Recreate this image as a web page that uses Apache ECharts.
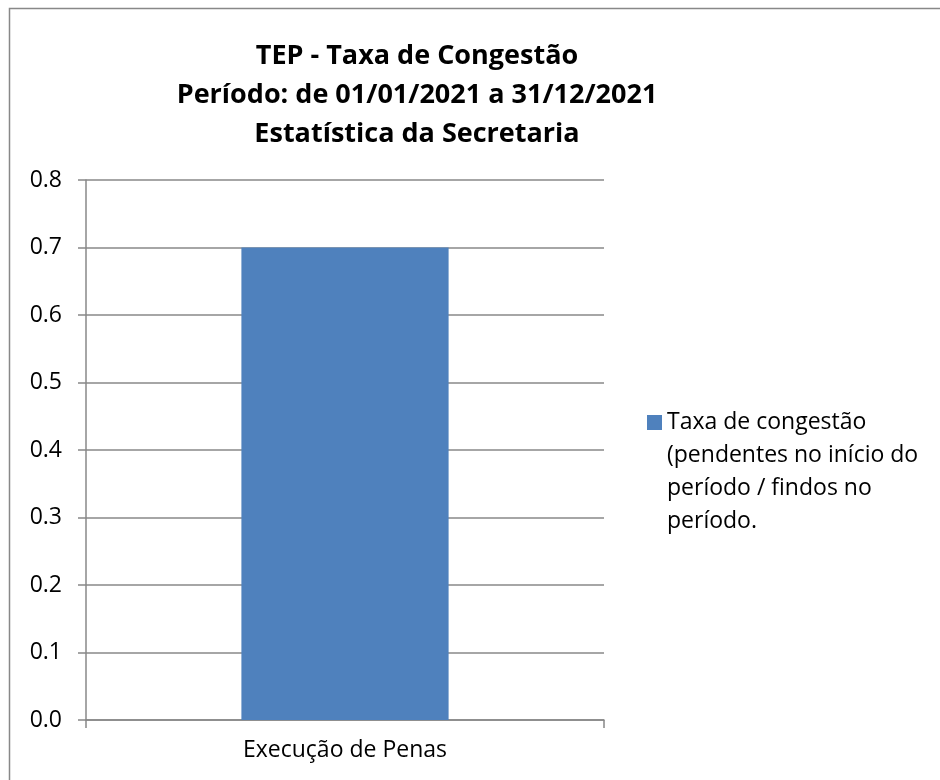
<!DOCTYPE html>
<html>
<head>
<meta charset="utf-8">
<script src="https://cdn.jsdelivr.net/npm/echarts@6/dist/echarts.min.js"></script>
<style>
  html, body { margin: 0; padding: 0; background: #fff; }
  #chart { width: 940px; height: 780px; }
</style>
</head>
<body>
<div id="chart"></div>
<script>
// dados do gráfico
var categorias = ['Execução de Penas']
var taxaCongestao = [0.7]
var nomeSerie = 'Taxa de congestão\n(pendentes no início do\nperíodo / findos no\nperíodo.'
var titulo = 'TEP - Taxa de Congestão\nPeríodo: de 01/01/2021 a 31/12/2021\nEstatística da Secretaria'

var fonte = '"Open Sans", sans-serif'
var cinza = '#888888'

var myChart = echarts.init(document.getElementById('chart'))
var option = {
    animation: false,
    textStyle: { fontFamily: fonte },
    title: {
        text: titulo,
        left: 412,
        top: 32,
        textAlign: 'center',
        textStyle: {
            fontFamily: fonte,
            fontSize: 27,
            fontWeight: 'bold',
            lineHeight: 39,
            color: '#000'
        }
    },
    graphic: [{
        type: 'rect',
        shape: { x: 9.5, y: 8.5, width: 940, height: 780 },
        style: { fill: 'none', stroke: cinza, lineWidth: 1.5 },
        silent: true
    }],
    legend: {
        left: 647,
        top: 307,
        padding: 0,
        itemWidth: 15,
        itemHeight: 15,
        itemGap: 0,
        icon: 'rect',
        data: [nomeSerie],
        // linhas em branco antes para o ícone ficar na 1ª linha
        formatter: function (name) { return '\n\n\n' + name },
        textStyle: {
            fontFamily: fonte,
            fontSize: 23,
            lineHeight: 33,
            color: '#000'
        }
    },
    grid: {
        left: 86,
        right: 336,
        top: 180,
        bottom: 60,
        containLabel: false
    },
    xAxis: {
        type: 'category',
        data: categorias,
        axisLine: { show: true, lineStyle: { color: cinza, width: 1.5 } },
        axisTick: { show: true, length: 8, lineStyle: { color: cinza, width: 1.5 } },
        axisLabel: { color: '#000', fontSize: 23, fontFamily: fonte, margin: 19 }
    },
    yAxis: {
        type: 'value',
        min: 0,
        max: 0.8,
        interval: 0.1,
        axisLine: { show: true, lineStyle: { color: cinza, width: 1.5 } },
        axisTick: { show: true, length: 8, lineStyle: { color: cinza, width: 1.5 } },
        splitLine: { show: true, lineStyle: { color: cinza, width: 1.5 } },
        axisLabel: {
            color: '#000',
            fontSize: 23,
            fontFamily: fonte,
            margin: 24,
            formatter: function (v) { return v.toFixed(1) }
        }
    },
    series: [{
        name: nomeSerie,
        type: 'bar',
        data: taxaCongestao,
        barWidth: '40%',
        itemStyle: { color: '#4f81bd' }
    }]
}
myChart.setOption(option)
</script>
</body>
</html>
